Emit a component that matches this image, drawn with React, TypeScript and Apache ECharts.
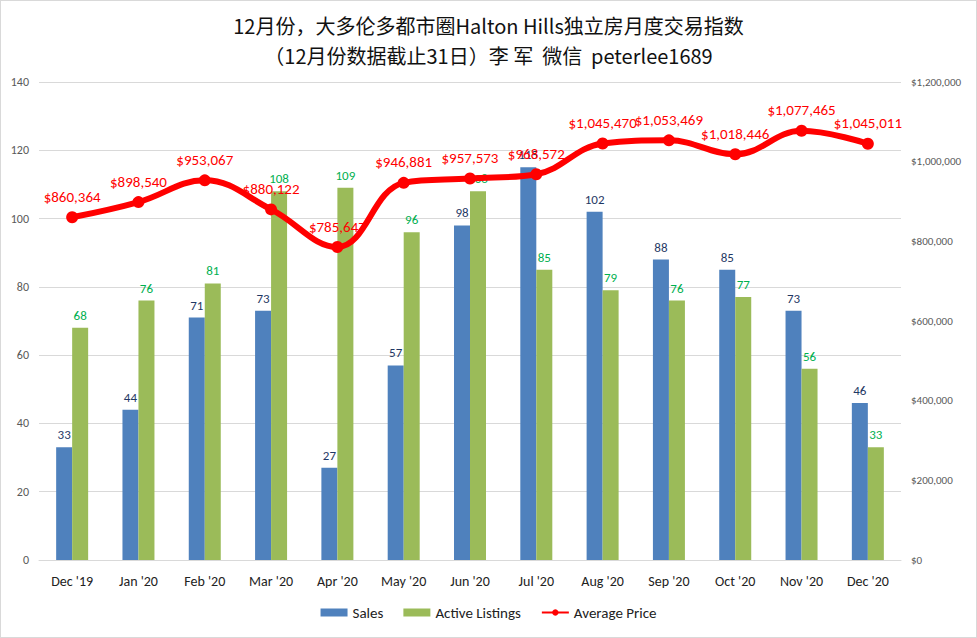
import React, { useEffect, useRef } from "react";
import * as echarts from "echarts";

const categories = ["Dec '19", "Jan '20", "Feb '20", "Mar '20", "Apr '20", "May '20", "Jun '20", "Jul '20", "Aug '20", "Sep '20", "Oct '20", "Nov '20", "Dec '20"];
const sales = [33, 44, 71, 73, 27, 57, 98, 115, 102, 88, 85, 73, 46];
const activeListings = [68, 76, 81, 108, 109, 96, 108, 85, 79, 76, 77, 56, 33];
const averagePrice = [860364, 898540, 953067, 880122, 785647, 946881, 957573, 968572, 1045470, 1053469, 1018446, 1077465, 1045011];

const fmtMoney = (v: number) => "$" + Math.round(v).toLocaleString("en-US");

export default function App() {
  const ref = useRef<HTMLDivElement>(null);
  useEffect(() => {
    document.body.style.margin = "0";
    const chart = echarts.init(ref.current!, null, { renderer: "svg" });
    const font = "Calibri, Carlito, 'Open Sans', 'Noto Sans', sans-serif";
    chart.setOption({
      animation: false,
      backgroundColor: "#fff",
      textStyle: { fontFamily: font },
      title: {
        text: "12月份，大多伦多都市圈Halton Hills独立房月度交易指数\n（12月份数据截止31日）李 军  微信  peterlee1689",
        left: "center",
        top: 4,
        textStyle: {
          fontFamily: "'Noto Sans CJK SC', 'Noto Sans', sans-serif",
          fontSize: 20,
          fontWeight: "normal",
          color: "#111",
          lineHeight: 30,
        },
      },
      legend: {
        bottom: 12,
        left: "center",
        itemGap: 20,
        textStyle: { fontSize: 15, color: "#222", fontFamily: font },
        data: [
          { name: "Sales", icon: "rect", itemStyle: { color: "#4F81BD" } },
          { name: "Active Listings", icon: "rect", itemStyle: { color: "#9BBB59" } },
          { name: "Average Price" },
        ],
        itemWidth: 27,
        itemHeight: 8,
      },
      grid: { left: 38, right: 75, top: 81, bottom: 77, containLabel: false },
      xAxis: {
        type: "category",
        data: categories,
        axisTick: { show: false },
        axisLine: { lineStyle: { color: "#D9D9D9" } },
        axisLabel: { color: "#222", fontSize: 14, margin: 14 },
      },
      yAxis: [
        {
          type: "value",
          min: 0,
          max: 140,
          interval: 20,
          axisLine: { show: false },
          axisTick: { show: false },
          axisLabel: { color: "#595959", fontSize: 12, margin: 10 },
          splitLine: { lineStyle: { color: "#D9D9D9" } },
        },
        {
          type: "value",
          min: 0,
          max: 1200000,
          interval: 200000,
          axisLine: { show: false },
          axisTick: { show: false },
          axisLabel: { color: "#595959", fontSize: 11, margin: 10, formatter: (v: number) => fmtMoney(v) },
          splitLine: { show: false },
        },
      ],
      series: [
        {
          name: "Sales",
          type: "bar",
          data: sales,
          barWidth: 16,
          barGap: "0%",
          itemStyle: { color: "#4F81BD" },
          label: { show: true, position: "top", color: "#1F3864", fontSize: 13, distance: 6 },
        },
        {
          name: "Active Listings",
          type: "bar",
          data: activeListings,
          barWidth: 16,
          barGap: "0%",
          itemStyle: { color: "#9BBB59" },
          label: { show: true, position: "top", color: "#00B050", fontSize: 13, distance: 6 },
        },
        {
          name: "Average Price",
          type: "line",
          yAxisIndex: 1,
          data: averagePrice,
          smooth: 0.4,
          symbol: "circle",
          symbolSize: 12,
          z: 5,
          lineStyle: { color: "#FF0000", width: 6 },
          itemStyle: { color: "#FF0000" },
          label: {
            show: true,
            position: "top",
            distance: 7,
            color: "#FF0000",
            fontSize: 15,
            formatter: (p: any) => fmtMoney(p.value),
          },
        },
      ],
    });
    return () => chart.dispose();
  }, []);
  return (
    <div
      ref={ref}
      style={{ width: 977, height: 638, boxSizing: "border-box", border: "1px solid #D9D9D9" }}
    />
  );
}
